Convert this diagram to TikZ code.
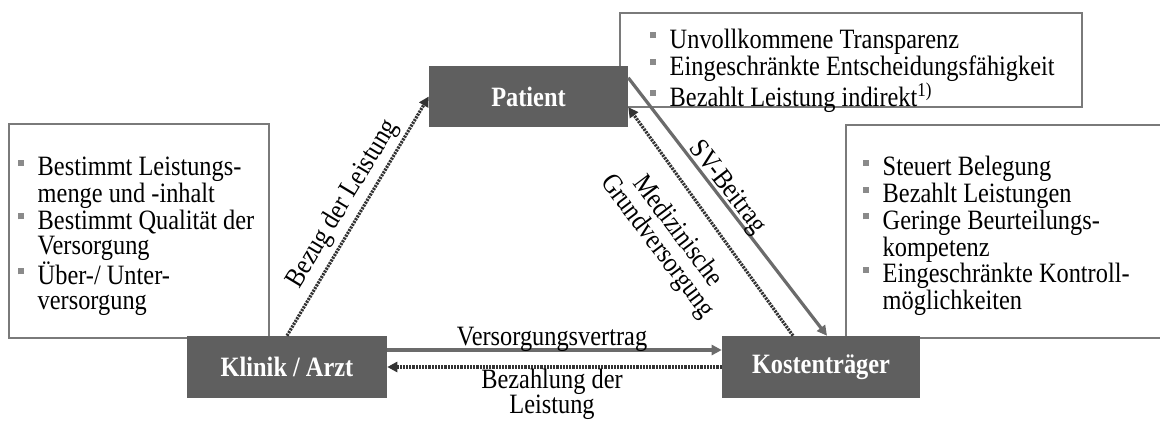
\documentclass[tikz,border=0pt]{standalone}
\usepackage{fontspec}
\setmainfont{Liberation Serif}[FakeStretch=0.87]
\usetikzlibrary{arrows.meta,calc}
\definecolor{boxfill}{HTML}{5F5F5F}
\definecolor{framec}{HTML}{7A7A7A}
\definecolor{arrowc}{HTML}{6B6B6B}
\definecolor{dotc}{HTML}{333333}
\definecolor{bulc}{HTML}{8A8A8A}
\newcommand{\bul}{\makebox[14.6pt][l]{\textcolor{bulc}{\rule[7.5pt]{4.5pt}{4.5pt}}}}
\newcommand{\ind}{\hspace*{14.6pt}}
\tikzset{
  actor/.style={fill=boxfill, draw=none, text=white, inner sep=0,
    font=\fontsize{21}{21}\selectfont\bfseries},
  infobox/.style={draw=framec, line width=1pt, fill=white, inner sep=0},
  txt/.style={anchor=north west, inner sep=0, align=left},
  lbl/.style={inner sep=0, align=center},
  solidarrow/.style={draw=arrowc, line width=2.4pt, -{Triangle[length=7.5pt,width=7.5pt]}},
  dotarrow/.style={draw=dotc, line width=2.4pt, dash pattern=on 1.6pt off 0.8pt,
    -{Triangle[length=7.5pt,width=7.5pt]}}
}
\begin{document}
\begin{tikzpicture}[x=0.75pt,y=-0.75pt, font=\fontsize{21}{18.75}\selectfont]
\useasboundingbox (0,0) rectangle (1160,428);
% info boxes
\node[infobox, minimum width=195pt, minimum height=160.5pt] (lbox) at (139,231) {};
\node[infobox, minimum width=237pt, minimum height=159.75pt] (rbox) at (1004,231.5) {};
\node[infobox, minimum width=346.5pt, minimum height=70.5pt] (tbox) at (851,60) {};
% actors
\node[actor, minimum width=149.25pt, minimum height=45.75pt] (patient) at (528.5,96.5) {Patient};
\node[actor, minimum width=150pt, minimum height=46.5pt] (klinik) at (287,367) {Klinik / Arzt};
\node[actor, minimum width=148.5pt, minimum height=46.5pt] (kosten) at (821,367) {Kostenträger};
% texts in boxes
\node[txt] (ltext) at (18,157) {\bul Bestimmt Leistungs-\\ \ind menge und -inhalt\\ \bul Bestimmt Qualität der\\ \ind Versorgung\\ \bul Über-/ Unter-\\ \ind versorgung};
\node[txt] (rtext) at (863,156) {\bul Steuert Belegung\\ \bul Bezahlt Leistungen\\ \bul Geringe Beurteilungs-\\ \ind kompetenz\\ \bul Eingeschränkte Kontroll-\\ \ind möglichkeiten};
\node[txt] (ttext) at (650,28.5) {\bul Unvollkommene Transparenz\\ \bul Eingeschränkte Entscheidungsfähigkeit\\ \bul Bezahlt Leistung indirekt\textsuperscript{1)}};
% connectors
\draw[dotarrow] (klinik.north) -- (patient.west);
\draw[solidarrow] ([yshift=-9pt]patient.north east) -- ([xshift=4.5pt]kosten.north);
\draw[dotarrow] ([xshift=-21pt]kosten.north) -- ([yshift=-8pt]patient.east);
\draw[solidarrow] ([yshift=12.75pt]klinik.east) -- ([yshift=12.75pt]kosten.west);
\draw[dotarrow] (kosten.west) -- (klinik.east);
% labels
\node[lbl, rotate=58.8] (lbezug) at (343,204) {Bezug der Leistung};
\node[lbl, rotate=-52.4] (lsv) at (727,188) {SV-Beitrag};
\node[lbl, rotate=-53] (lmed) at (667,239) {Medizinische\\Grundversorgung};
\node[lbl] (lvv) at (552,339) {Versorgungsvertrag};
\node[lbl] (lbez) at (552,394) {Bezahlung der\\Leistung};
\end{tikzpicture}
\end{document}
